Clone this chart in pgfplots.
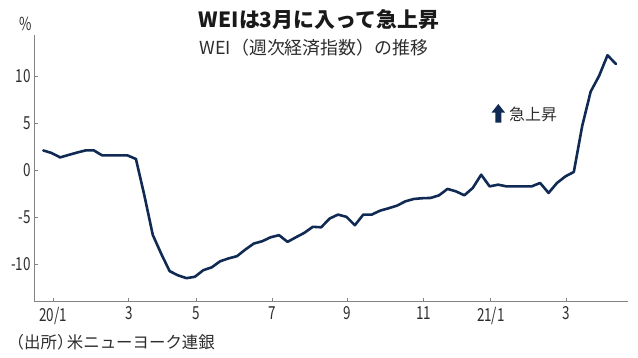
\documentclass[border=0pt]{standalone}
\usepackage{pgfplots}
\pgfplotsset{compat=1.18}
\usepackage{fontspec}
\setmainfont{Noto Sans CJK JP}
\newfontfamily\condfont{Noto Sans CJK JP}[FakeStretch=0.75]
\definecolor{navy}{RGB}{16,42,84}
\definecolor{axgray}{RGB}{130,130,130}
\definecolor{txt}{RGB}{45,45,45}
\pgfplotstableread{
j v
0 2.08
1 1.8
2 1.34
3 1.6
4 1.85
5 2.08
6 2.08
7 1.55
8 1.55
9 1.55
10 1.55
11 1.17
12 -2.7
13 -6.9
14 -8.9
15 -10.75
16 -11.2
17 -11.5
18 -11.35
19 -10.65
20 -10.35
21 -9.7
22 -9.4
23 -9.16
24 -8.45
25 -7.82
26 -7.57
27 -7.15
28 -6.93
29 -7.64
30 -7.15
31 -6.68
32 -6.04
33 -6.09
34 -5.16
35 -4.74
36 -4.98
37 -5.87
38 -4.74
39 -4.74
40 -4.32
41 -4.07
42 -3.79
43 -3.33
44 -3.08
45 -3.0
46 -2.97
47 -2.69
48 -2.01
49 -2.27
50 -2.69
51 -1.91
52 -0.5
53 -1.74
54 -1.56
55 -1.74
56 -1.74
57 -1.74
58 -1.74
59 -1.38
60 -2.44
61 -1.38
62 -0.68
63 -0.21
64 4.7
65 8.33
66 10.0
67 12.2
68 11.27
}\wei
\begin{document}
\begin{tikzpicture}[x=1bp,y=1bp]
\path[use as bounding box] (0,0) rectangle (638,357);
\begin{axis}[
  at={(34.3bp,55.3bp)}, anchor=south west,
  width=593.4bp, height=266.7bp, scale only axis,
  xmin=-1.07, xmax=69.4, ymin=-14, ymax=14.35,
  axis lines=left,
  axis line style={-, draw=axgray, line width=0.8bp},
  xtick={1.15,10.15,18.15,27.15,36.15,45.15,53.15,62.15},
  xticklabels={20/1,3,5,7,9,11,21/1,3},
  ytick={-10,-5,0,5,10},
  yticklabels={-10,-5,0,5,10},
  tick style={draw=axgray, line width=0.8bp},
  major tick length=3.5bp,
  tick align=inside,
  /pgf/number format/assume math mode=true,
  ticklabel style={font=\condfont\fontsize{18}{18}\selectfont, text=txt, inner sep=0pt},
  xticklabel style={anchor=north, yshift=-5bp},
  yticklabel style={anchor=east, xshift=-3.5bp},
  clip=false,
]
\addplot[navy, line width=2.6bp, line join=round, line cap=round] table[x=j, y=v] {\wei};
\end{axis}
\node[font=\bfseries\fontsize{21}{21}\selectfont, text=black!90] at (319,337.5) {WEIは3月に入って急上昇};
\node[font=\fontsize{18}{18}\selectfont, text=txt] at (314,309) {WEI（週次経済指数）の推移};
\node[font=\condfont\fontsize{18}{18}\selectfont, text=txt] at (26,333) {\%};
\node[anchor=west, inner sep=0pt, font=\fontsize{16.5}{16.5}\selectfont, text=txt] at (7.5,14.5) {（出所）\kern-0.4em米ニューヨーク連銀};
\fill[navy] (498.3,253) -- (505,244.5) -- (501.3,244.5) -- (501.3,234.3) -- (495.3,234.3) -- (495.3,244.5) -- (491.6,244.5) -- cycle;
\node[anchor=west, font=\fontsize{16}{16}\selectfont, text=txt, inner sep=0pt] at (509,243) {急上昇};
\end{tikzpicture}
\end{document}
